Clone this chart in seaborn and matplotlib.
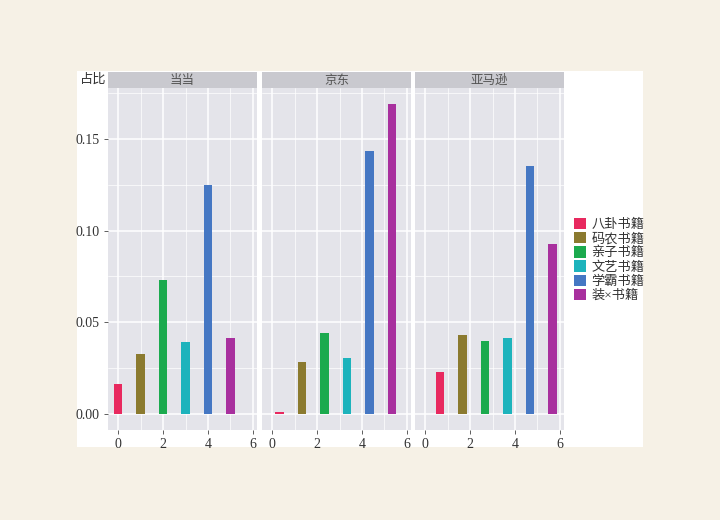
import matplotlib.pyplot as plt
import matplotlib.patches as mpatches
import numpy as np
import pandas as pd
import seaborn as sns

# data
platforms = ["当当", "京东", "亚马逊"]
categories = ["八卦书籍", "码农书籍", "亲子书籍", "文艺书籍", "学霸书籍", "装×书籍"]
share_dangdang = [0.0164, 0.0329, 0.0729, 0.0392, 0.1245, 0.0417]
share_jd = [0.0015, 0.0284, 0.0444, 0.0309, 0.1432, 0.1690]
share_amazon = [0.0230, 0.0430, 0.0399, 0.0414, 0.1353, 0.0928]
offsets = [0.0, 1 / 3, 2 / 3]  # bar position shift per platform

colors = ["#E8295F", "#8B7A2F", "#1BAA4E", "#1DB3BC", "#4577C3", "#A8309E"]

sns.set_theme(style="darkgrid")
plt.rcParams["font.family"] = ["Liberation Serif", "Noto Sans CJK SC", "DejaVu Sans"]

W, H = 720, 520
fig = plt.figure(figsize=(7.2, 5.2), dpi=100)
fig.patch.set_facecolor("#F6F1E6")


def fx(px):
    return px / W


def fy(py):
    return 1 - py / H


# white plot area
fig.patches.append(mpatches.Rectangle((fx(77), fy(447)), fx(643) - fx(77), fy(71) - fy(447),
                                      transform=fig.transFigure, facecolor="white",
                                      edgecolor="none", zorder=-10))

panel_x = [(108, 257), (262, 411), (415, 564)]
top, bottom, strip_top = 88, 430, 72

all_shares = [share_dangdang, share_jd, share_amazon]

for k, (name, shares) in enumerate(zip(platforms, all_shares)):
    x0, x1 = panel_x[k]
    ax = fig.add_axes([fx(x0), fy(bottom), fx(x1) - fx(x0), fy(top) - fy(bottom)])
    df = pd.DataFrame({
        "pos": np.arange(len(categories)) + offsets[k],
        "share": shares,
        "cat": categories,
    })
    sns.barplot(data=df, x="pos", y="share", hue="cat", palette=colors,
                native_scale=True, dodge=False, width=0.37, legend=False,
                saturation=1, linewidth=0, ax=ax)
    ax.set_facecolor("#E4E4EA")
    ax.set_xlim(-0.45, 6.18)
    ax.set_ylim(-0.0085, 0.1775)
    ax.set_xticks([0, 2, 4, 6])
    ax.set_xticks([1, 3, 5], minor=True)
    ax.set_yticks([0, 0.05, 0.10, 0.15])
    ax.set_yticks([0.025, 0.075, 0.125, 0.175], minor=True)
    ax.grid(which="major", color="white", linewidth=1.1)
    ax.grid(which="minor", color="white", linewidth=0.5)
    ax.set_axisbelow(True)
    for s in ax.spines.values():
        s.set_visible(False)
    ax.set_xlabel("")
    ax.set_ylabel("")
    ax.tick_params(which="major", length=3, width=0.6, color="#444444",
                   labelsize=10, labelcolor="#333333", pad=3,
                   bottom=True, left=(k == 0))
    ax.tick_params(which="minor", length=0)
    ax.set_xticklabels(["0", "2", "4", "6"])
    if k == 0:
        ax.set_yticklabels(["0.00", "0.05", "0.10", "0.15"])
    else:
        ax.set_yticklabels([])

    # facet strip
    sax = fig.add_axes([fx(x0), fy(top), fx(x1) - fx(x0), fy(strip_top) - fy(top)])
    sax.set_facecolor("#C9C9CF")
    sax.set_xticks([])
    sax.set_yticks([])
    sax.grid(False)
    for s in sax.spines.values():
        s.set_visible(False)
    sax.text(0.5, 0.45, name, ha="center", va="center", fontsize=9,
             color="#555555", transform=sax.transAxes)

fig.text(fx(80), fy(80), "占比", ha="left", va="center", fontsize=9.5, color="#333333")

handles = [mpatches.Patch(facecolor=c, edgecolor="none") for c in colors]
fig.legend(handles, categories, loc="upper left", bbox_to_anchor=(fx(571), fy(215)),
           frameon=False, fontsize=9.5, handlelength=0.95, handleheight=0.95,
           handletextpad=0.4, labelspacing=0.08, borderaxespad=0, borderpad=0.2,
           labelcolor="#333333")

fig.savefig("out.png", dpi=100, facecolor=fig.get_facecolor())
